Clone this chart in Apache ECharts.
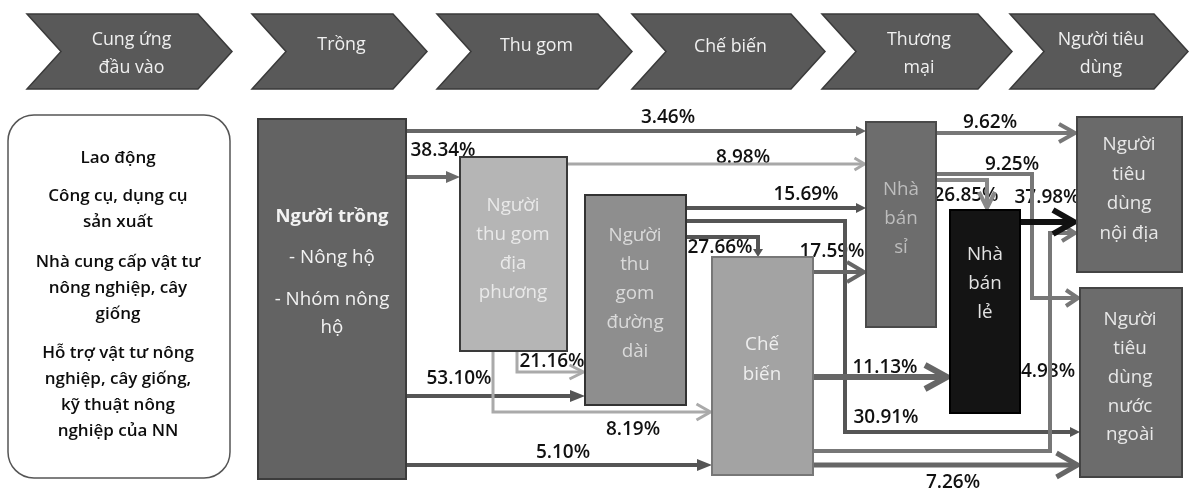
<!DOCTYPE html>
<html><head><meta charset="utf-8">
<script src="https://cdn.jsdelivr.net/npm/echarts@6/dist/echarts.min.js"></script>
<style>html,body{margin:0;padding:0;background:#fff}#c{width:1190px;height:489px}</style>
</head><body><div id="c"></div>
<script>
// ---------- DATA ----------
const stageNames = ['Cung ứng\nđầu vào', 'Trồng', 'Thu gom', 'Chế biến', 'Thương\nmại', 'Người tiêu\ndùng'];
const inputItems = ['Lao động', 'Công cụ, dụng cụ\nsản xuất', 'Nhà cung cấp vật tư\nnông nghiệp, cây\ngiống', 'Hỗ trợ vật tư nông\nnghiệp, cây giống,\nkỹ thuật nông\nnghiệp của NN'];
const nodeIds = ['grower', 'local', 'longd', 'proc', 'whole', 'retail', 'dom', 'exp'];
const nodeLabels = ['Người trồng\n- Nông hộ\n- Nhóm nông\nhộ', 'Người\nthu gom\nđịa\nphương', 'Người\nthu\ngom\nđường\ndài', 'Chế\nbiến', 'Nhà\nbán\nsỉ', 'Nhà\nbán\nlẻ', 'Người\ntiêu\ndùng\nnội địa', 'Người\ntiêu\ndùng\nnước\nngoài'];
const flowSources = ['grower','grower','local','longd','longd','longd','proc','local','grower','local','grower','proc','proc','proc','whole','whole','whole','retail'];
const flowTargets = ['whole','local','whole','whole','exp','proc','whole','longd','longd','proc','proc','retail','dom','exp','dom','exp','retail','dom'];
const flowShares = [3.46, 38.34, 8.98, 15.69, 30.91, 27.66, 17.59, 21.16, 53.10, 8.19, 5.10, 11.13, 4.98, 7.26, 9.62, 9.25, 26.85, 37.98];

// ---------- LAYOUT / STYLE ----------
const FONT = '"Open Sans", "Noto Sans", sans-serif';
const stageLayout = [[27,232],[252,427],[437,632],[632,825],[822,1012],[1010,1188]];
const stageBox = {top: 14, bottom: 89, notch: 34};
const stageTextY = [54, 45, 46, 47, 54, 54];
const inputBox = {x0: 8, y0: 115, x1: 230, y1: 478, textX: 118, groupY: [158, 209.5, 288, 392.5], lh: 26};
const nodeLayout = {
  grower: {r:[258,119,406,479], fill:'#636363', stroke:'#3c3c3c', text:'#f2f2f2', cx:332, lineY:[217,258,300,328]},
  local:  {r:[460,157,567,351], fill:'#b5b5b5', stroke:'#3a3a3a', text:'#e9e9e9', cx:513, cy:249, lh:29},
  longd:  {r:[585,195,686,405], fill:'#8e8e8e', stroke:'#333333', text:'#dadada', cx:635, cy:293.5, lh:29},
  proc:   {r:[712,257,813,475], fill:'#a3a3a3', stroke:'#777777', text:'#eeeeee', cx:762, cy:360, lh:30},
  whole:  {r:[866,122,936,327], fill:'#6d6d6d', stroke:'#4a4a4a', text:'#bdbdbd', cx:901, cy:219, lh:29},
  retail: {r:[950,210,1020,413], fill:'#141414', stroke:'#000000', text:'#e2e2e2', cx:985, cy:284, lh:29},
  dom:    {r:[1077,117,1182,272], fill:'#6a6a6a', stroke:'#444444', text:'#e8e8e8', cx:1129, cy:189, lh:29.5},
  exp:    {r:[1080,288,1182,477], fill:'#6c6c6c', stroke:'#444444', text:'#e8e8e8', cx:1130, cy:377.5, lh:28.8}
};
// route + style per flow (same order as flow arrays)
const flowRoutes = [
  {m:'h', y:131, c:'#666', w:4, head:'fill', len:10, half:5},
  {m:'h', y:177, c:'#6b6b6b', w:4, head:'fill', len:14, half:6},
  {m:'h', y:164, c:'#a8a8a8', w:3, head:'open', len:10, half:6},
  {m:'h', y:208, c:'#555', w:4, head:'fill', len:10, half:5},
  {m:'hvh', y:221, x:845, y2:432, c:'#555', w:4, head:'fill', len:10, half:5},
  {m:'hv', y:237, x:758, c:'#555', w:4, head:'fill', len:8, half:5},
  {m:'h', y:272, c:'#666', w:4, head:'open', len:17, half:10},
  {m:'vh', x:517, y:372, c:'#aaa', w:3, head:'open', len:14, half:7},
  {m:'h', y:396, c:'#555', w:4, head:'fill', len:15, half:6},
  {m:'vh', x:493, y:412, c:'#aaa', w:3, head:'open', len:14, half:8},
  {m:'h', y:465, c:'#555', w:4, head:'fill', len:15, half:6},
  {m:'h', y:377, c:'#666', w:6, head:'open', len:22, half:12},
  {m:'hvh', y:451, x:1050, y2:233, c:'#777', w:4, head:'open', len:13, half:8},
  {m:'h', y:465, c:'#666', w:5, head:'open', len:21, half:12},
  {m:'h', y:133, c:'#777', w:4, head:'open', len:16, half:9},
  {m:'hvh', y:174, x:1032, y2:298, c:'#777', w:4, head:'open', len:12, half:8},
  {m:'hv', y:180, x:987, c:'#888', w:4, head:'open', len:16, half:8},
  {m:'h', y:222, c:'#111', w:6, head:'open', len:21, half:12}
];
const labelPos = [[668,118],[443,151],[743,158],[806,195],[886,418],[720,248],[832,252],[552,362],[459,379],[633,430],[563,453],[885,368],[1048,372],[953,483],[990,123],[1012,165],[966,196],[1047,198]];

// ---------- RENDER ----------
function routePoints(i) {
  const s = nodeLayout[flowSources[i]].r, t = nodeLayout[flowTargets[i]].r, r = flowRoutes[i];
  switch (r.m) {
    case 'h':   return [[s[2], r.y], [t[0], r.y]];
    case 'hv':  return [[s[2], r.y], [r.x, r.y], [r.x, t[1]]];
    case 'hvh': return [[s[2], r.y], [r.x, r.y], [r.x, r.y2], [t[0], r.y2]];
    case 'vh':  return [[r.x, s[3]], [r.x, r.y], [t[0], r.y]];
  }
}

function renderFlow(params, api) {
  const i = params.dataIndex, r = flowRoutes[i];
  const pts = routePoints(i).map(p => api.coord(p));
  const n = pts.length, p2 = pts[n-1], p1 = pts[n-2];
  let dx = p2[0]-p1[0], dy = p2[1]-p1[1];
  const L = Math.hypot(dx, dy) || 1; dx /= L; dy /= L;
  const nx = -dy, ny = dx;
  const base = [p2[0]-dx*r.len, p2[1]-dy*r.len];
  const children = [];
  const linePts = pts.slice(0, n-1);
  if (r.head === 'fill') {
    linePts.push([base[0]+dx, base[1]+dy]);
  } else {
    linePts.push([p2[0]-dx*r.w*0.8, p2[1]-dy*r.w*0.8]);
  }
  children.push({type:'polyline', shape:{points: linePts}, style:{stroke:r.c, lineWidth:r.w, fill:null, lineJoin:'miter'}});
  if (r.head === 'fill') {
    children.push({type:'polygon', shape:{points:[p2, [base[0]+nx*r.half, base[1]+ny*r.half], [base[0]-nx*r.half, base[1]-ny*r.half]]}, style:{fill:r.c}});
  } else {
    const tip = [p2[0]-dx*r.w*0.5, p2[1]-dy*r.w*0.5];
    const b = [tip[0]-dx*r.len, tip[1]-dy*r.len];
    children.push({type:'polyline', shape:{points:[[b[0]+nx*r.half, b[1]+ny*r.half], tip, [b[0]-nx*r.half, b[1]-ny*r.half]]}, style:{stroke:r.c, lineWidth:r.w, fill:null, lineJoin:'miter', lineCap:'butt'}});
  }
  return {type:'group', children};
}

function renderLabel(params, api) {
  const i = params.dataIndex;
  const p = api.coord(labelPos[i]);
  return {type:'text', style:{text: flowShares[i].toFixed(2) + '%', x:p[0], y:p[1], align:'center', verticalAlign:'middle', fill:'#111', fontSize:19, fontWeight:600, fontFamily:FONT}};
}

function renderNode(params, api) {
  const i = params.dataIndex, id = nodeIds[i], L = nodeLayout[id];
  const a = api.coord([L.r[0], L.r[1]]), b = api.coord([L.r[2], L.r[3]]);
  const children = [{type:'rect', shape:{x:a[0], y:a[1], width:b[0]-a[0], height:b[1]-a[1]}, style:{fill:L.fill, stroke:L.stroke, lineWidth:2}}];
  const lines = nodeLabels[i].split('\n');
  if (L.lineY) {
    lines.forEach((t, k) => {
      const p = api.coord([L.cx, L.lineY[k]]);
      children.push({type:'text', style:{text:t, x:p[0], y:p[1], align:'center', verticalAlign:'middle', fill:L.text, fontSize: k===0 ? 18.5 : 18.8, fontWeight: k===0 ? 'bold' : 'normal', fontFamily:FONT}});
    });
  } else {
    const p = api.coord([L.cx, L.cy]);
    children.push({type:'text', style:{text:nodeLabels[i], x:p[0], y:p[1], align:'center', verticalAlign:'middle', fill:L.text, fontSize:18.8, lineHeight:L.lh, fontFamily:FONT}});
  }
  return {type:'group', children};
}

function renderStage(params, api) {
  const i = params.dataIndex, [l, tip] = stageLayout[i];
  const t = stageBox.top, bt = stageBox.bottom, mid = (t+bt)/2, d = stageBox.notch;
  const pts = [[l,t],[tip-d,t],[tip,mid],[tip-d,bt],[l,bt],[l+d,mid]].map(p => api.coord(p));
  const c = api.coord([(l+tip)/2 + 2, stageTextY[i]]);
  return {type:'group', children:[
    {type:'polygon', shape:{points:pts}, style:{fill:'#595959', stroke:'#3a3a3a', lineWidth:1.5}},
    {type:'text', style:{text:stageNames[i], x:c[0], y:c[1], align:'center', verticalAlign:'middle', fill:'#f0f0f0', fontSize:17.8, lineHeight:28, fontFamily:FONT}}
  ]};
}

function renderInputs(params, api) {
  const B = inputBox;
  const a = api.coord([B.x0, B.y0]), b = api.coord([B.x1, B.y1]);
  const children = [{type:'rect', shape:{x:a[0], y:a[1], width:b[0]-a[0], height:b[1]-a[1], r:26}, style:{fill:'#fff', stroke:'#555', lineWidth:1.5}}];
  inputItems.forEach((t, k) => {
    const p = api.coord([B.textX, B.groupY[k]]);
    children.push({type:'text', style:{text:t, x:p[0], y:p[1], align:'center', verticalAlign:'middle', fill:'#0d0d0d', fontSize:17, fontWeight:600, lineHeight:B.lh, fontFamily:FONT}});
  });
  return {type:'group', children};
}

const chart = echarts.init(document.getElementById('c'));
chart.setOption({
  animation: false,
  backgroundColor: '#ffffff',
  grid: {left:0, right:0, top:0, bottom:0},
  xAxis: {type:'value', min:0, max:1190, show:false},
  yAxis: {type:'value', min:0, max:489, inverse:true, show:false},
  series: [
    {type:'custom', name:'labels', z:1, silent:true, renderItem:renderLabel, data: flowShares.map((v,i)=>[i,0])},
    {type:'custom', name:'flows', z:2, silent:true, renderItem:renderFlow, data: flowShares.map((v,i)=>[i,0])},
    {type:'custom', name:'nodes', z:3, silent:true, renderItem:renderNode, data: nodeIds.map((v,i)=>[i,0])},
    {type:'custom', name:'stages', z:3, silent:true, renderItem:renderStage, data: stageNames.map((v,i)=>[i,0])},
    {type:'custom', name:'inputs', z:3, silent:true, renderItem:renderInputs, data: [[0,0]]}
  ]
});
</script></body></html>
